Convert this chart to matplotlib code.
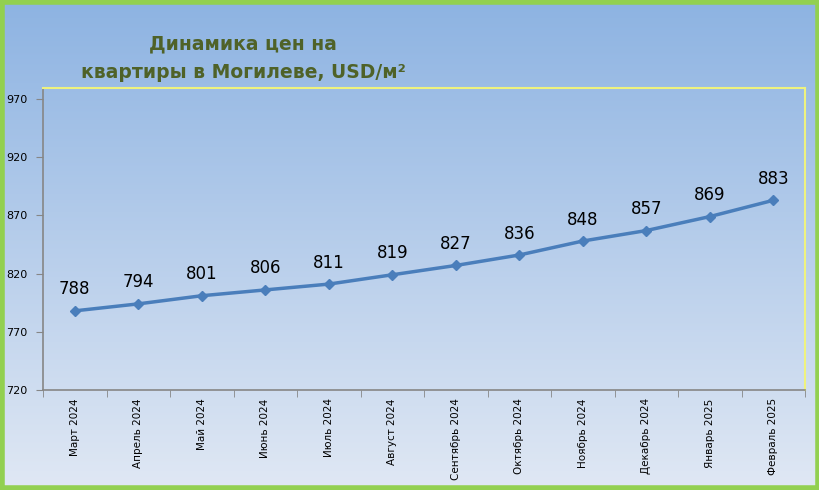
import numpy as np
import matplotlib.pyplot as plt

months = ['Март 2024', 'Апрель 2024', 'Май 2024', 'Июнь 2024', 'Июль 2024',
          'Август 2024', 'Сентябрь 2024', 'Октябрь 2024', 'Ноябрь 2024',
          'Декабрь 2024', 'Январь 2025', 'Февраль 2025']
prices = [788, 794, 801, 806, 811, 819, 827, 836, 848, 857, 869, 883]
yticks = [720, 770, 820, 870, 920, 970]

W, H = 820, 490
fig = plt.figure(figsize=(W / 100, H / 100), dpi=100)

# background gradient over the whole figure
bg = fig.add_axes([0, 0, 1, 1])
top = np.array([0x8D, 0xB3, 0xE2]) / 255
bot = np.array([0xE0, 0xE8, 0xF4]) / 255
t = np.linspace(0, 1, 256)[:, None]
grad = top * (1 - t) + bot * t
bg.imshow(grad[:, None, :], aspect='auto', extent=[0, 1, 0, 1])
bg.set_xlim(0, 1)
bg.set_ylim(0, 1)
bg.axis('off')
bg.add_patch(plt.Rectangle((0.002, 0.004), 0.996, 0.992, fill=False,
                           edgecolor='#92D050', lw=4, transform=bg.transAxes))

left, right, ytop, ybot = 43, 805, 88, 390
ax = fig.add_axes([left / W, 1 - ybot / H, (right - left) / W, (ybot - ytop) / H])
ax.patch.set_alpha(0)

x = np.arange(len(months))
ax.plot(x, prices, color='#4A7EBB', lw=2.5, marker='D', ms=5, zorder=3)
for xi, p in zip(x, prices):
    ax.annotate(str(p), (xi, p), xytext=(0, 9), textcoords='offset points',
                ha='center', va='bottom', fontsize=12, color='black')

ax.set_xlim(-0.5, len(months) - 0.5)
ax.set_ylim(720, 979.5)
ax.set_yticks(yticks)
ax.set_yticklabels([str(v) for v in yticks], fontsize=8)
ax.set_xticks(x)
ax.set_xticklabels(months, rotation=90, fontsize=7.5)
ax.set_xticks(np.arange(-0.5, len(months)), minor=True)
ax.tick_params(axis='x', which='major', length=0, pad=6)
ax.tick_params(axis='x', which='minor', length=5, color='#868686')
ax.tick_params(axis='y', length=5, color='#868686', pad=6)

for s in ['left', 'bottom']:
    ax.spines[s].set_color('#868686')
    ax.spines[s].set_linewidth(1.2)
for s in ['top', 'right']:
    ax.spines[s].set_color('#EEF27E')
    ax.spines[s].set_linewidth(1.5)

fig.text(243 / W, 1 - 44 / H, 'Динамика цен на', ha='center', va='center',
         fontsize=13.5, fontweight='bold', color='#4F6228')
fig.text(243 / W, 1 - 72 / H, 'квартиры в Могилеве, USD/м²', ha='center', va='center',
         fontsize=13.5, fontweight='bold', color='#4F6228')

fig.savefig('out.png', dpi=100)
